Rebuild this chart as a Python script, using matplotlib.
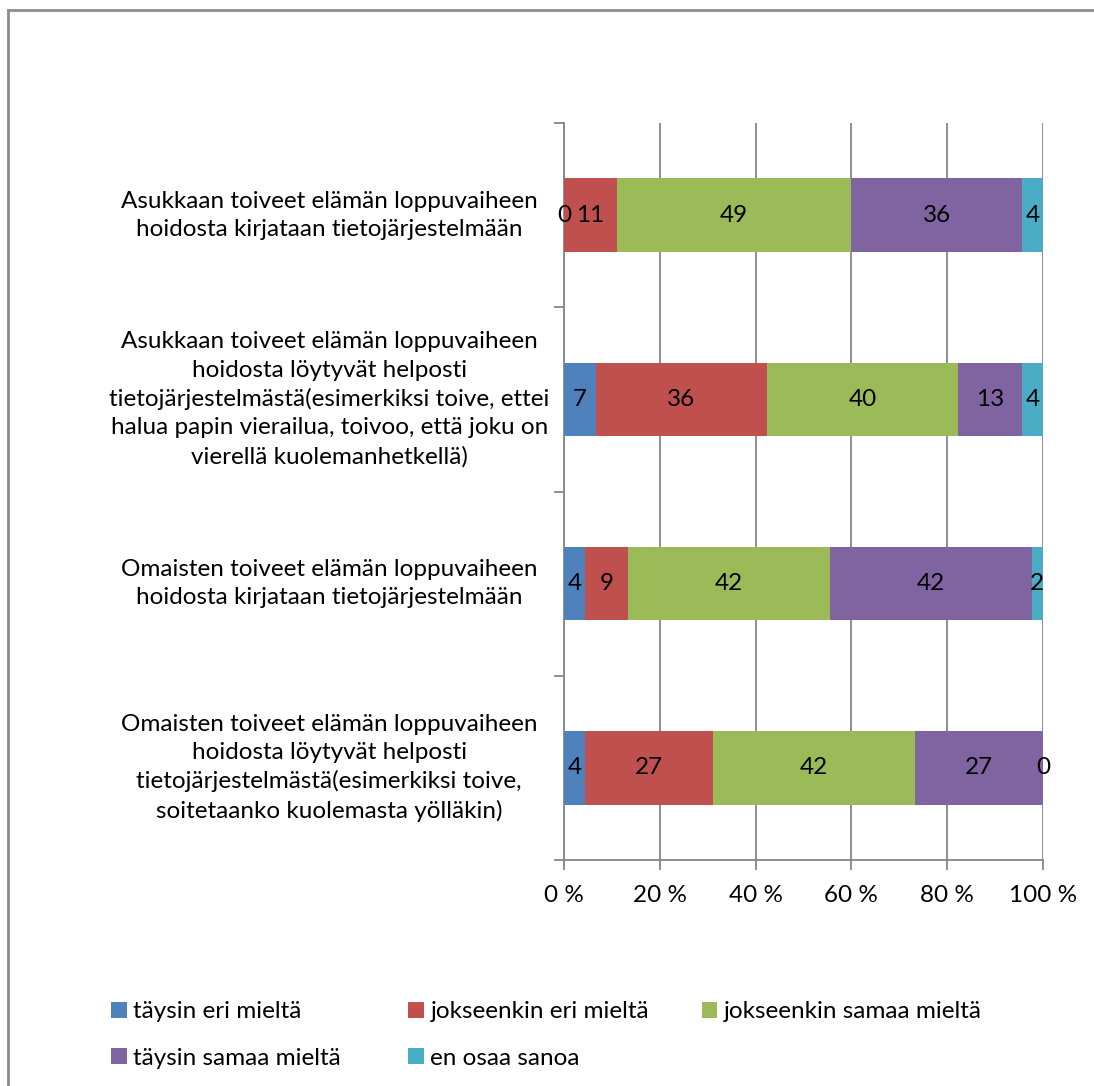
import matplotlib.pyplot as plt
from matplotlib.lines import Line2D
from matplotlib.patches import Patch
import numpy as np

plt.rcParams['font.family'] = ['Lato', 'DejaVu Sans']

questions = [
    'Asukkaan toiveet elämän loppuvaiheen\nhoidosta kirjataan tietojärjestelmään',
    'Asukkaan toiveet elämän loppuvaiheen\nhoidosta löytyvät helposti\n'
    'tietojärjestelmästä(esimerkiksi toive, ettei\n'
    'halua papin vierailua, toivoo, että joku on\nvierellä kuolemanhetkellä)',
    'Omaisten toiveet elämän loppuvaiheen\nhoidosta kirjataan tietojärjestelmään',
    'Omaisten toiveet elämän loppuvaiheen\nhoidosta löytyvät helposti\n'
    'tietojärjestelmästä(esimerkiksi toive,\nsoitetaanko kuolemasta yölläkin)',
]
answers = ['täysin eri mieltä', 'jokseenkin eri mieltä', 'jokseenkin samaa mieltä',
           'täysin samaa mieltä', 'en osaa sanoa']
colors = ['#4F81BD', '#C0504D', '#9BBB59', '#8064A2', '#4BACC6']

# percentages per answer, one value per question (top to bottom)
taysin_eri = [0.0, 6.7, 4.4, 4.4]
jokseenkin_eri = [11.1, 35.6, 8.9, 26.7]
jokseenkin_samaa = [48.9, 40.0, 42.2, 42.2]
taysin_samaa = [35.6, 13.3, 42.2, 26.7]
en_osaa = [4.4, 4.4, 2.2, 0.0]
series = [taysin_eri, jokseenkin_eri, jokseenkin_samaa, taysin_samaa, en_osaa]

FS = 17.5

fig = plt.figure(figsize=(10.94, 10.86), dpi=100)
ax = fig.add_axes([0.5155, 0.2081, 0.4379, 0.6786])

y = np.arange(len(questions))[::-1]
left = np.zeros(len(questions))
for vals, c in zip(series, colors):
    vals = np.array(vals)
    ax.barh(y, vals, left=left, height=0.4, color=c, zorder=3)
    for yi, l, v in zip(y, left, vals):
        ax.text(l + v / 2, yi, f'{v:.0f}', ha='center', va='center',
                fontsize=FS, color='black', zorder=4)
    left += vals

ax.set_xlim(0, 100)
ax.set_ylim(-0.5, len(questions) - 0.5)
ax.set_xticks(np.arange(0, 101, 20))
ax.set_xticklabels([f'{t} %' for t in range(0, 101, 20)], fontsize=FS)
ax.set_yticks(np.arange(-0.5, len(questions), 1))
ax.set_yticklabels([])
ax.xaxis.grid(True, color='#868686', linewidth=1.3, zorder=0)
for s in ['top', 'right']:
    ax.spines[s].set_visible(False)
for s in ['left', 'bottom']:
    ax.spines[s].set_color('#868686')
    ax.spines[s].set_linewidth(1.3)
ax.tick_params(axis='both', color='#868686', length=7, width=1.3)
ax.tick_params(axis='x', pad=11)

# category labels, centred multi-line text to the left of the axis
for yi, q in zip(y, questions):
    ax.text(-0.49, yi, q, ha='center', va='center', fontsize=FS,
            linespacing=1.42, transform=ax.get_yaxis_transform(),
            multialignment='center')

# legend laid out row by row, one small legend per column
legend_cols = [[0, 3], [1, 4], [2]]
col_x = [0.093, 0.3645, 0.6325]
for idx, x0 in zip(legend_cols, col_x):
    handles = [Patch(facecolor=colors[i], edgecolor='none') for i in idx]
    leg = fig.legend(handles, [answers[i] for i in idx], loc='upper left',
                     bbox_to_anchor=(x0, 0.087), ncol=1, frameon=False,
                     fontsize=FS, handlelength=0.65, handleheight=0.65,
                     handletextpad=0.25, labelspacing=1.05, borderaxespad=0)

# chart area border
fig.add_artist(Line2D([8 / 1094, 1], [1 - 10 / 1086] * 2, color='#8c8c8c', lw=2))
fig.add_artist(Line2D([8 / 1094] * 2, [0, 1 - 10 / 1086], color='#8c8c8c', lw=2))

fig.savefig('out.png', dpi=100)
